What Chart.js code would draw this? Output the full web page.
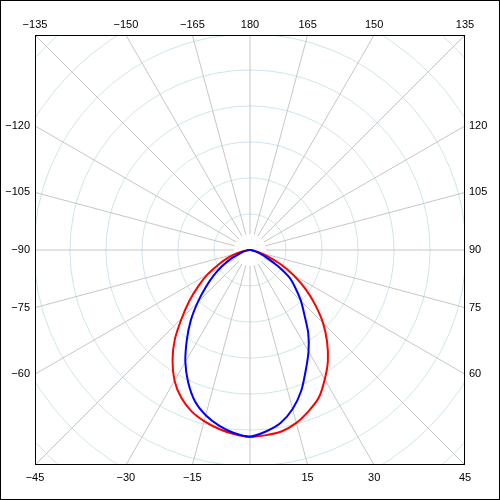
<!DOCTYPE html>
<html>
<head>
<meta charset="utf-8">
<script src="https://cdn.jsdelivr.net/npm/chart.js@4/dist/chart.umd.min.js"></script>
<style>
  html, body { margin: 0; padding: 0; background: #fff; }
  #wrap { width: 500px; height: 500px; }
</style>
</head>
<body>
<div id="wrap"><canvas id="polarChart" width="500" height="500"></canvas></div>
<script>
// --- photometric curve data (angle in degrees, 0 = straight down) ---
const angles = [-90, -85, -80, -75, -70, -65, -60, -55, -50, -45, -40, -35, -30, -25, -20, -15, -10, -5, 0,
                5, 10, 15, 20, 25, 30, 35, 40, 45, 50, 55, 60, 65, 70, 75, 80, 85, 90];
const redValues = [0, 6, 20, 42, 68, 98, 137, 175, 220, 268, 325, 375, 419, 452, 476, 492, 504, 513, 519,
                   516, 511, 497, 476, 452, 415, 377, 333, 287, 236, 188, 140, 95, 55, 30, 14, 5, 0];
const blueValues = [0, 3, 10, 20, 32, 60, 89, 123, 160, 205, 256, 306, 359, 406, 447, 475, 495, 510, 518,
                    506, 488, 457, 416, 367, 325, 282, 235, 200, 165, 134, 88, 52, 30, 15, 7, 2, 0];

// grid
const ringValues = [100, 200, 300, 400, 500, 600, 700, 800];
const spokeAngles = [-165, -150, -135, -120, -105, -90, -75, -60, -45, -30, -15, 0, 15, 30, 45, 60, 75, 90, 105, 120, 135, 150, 165, 180];
const labelAngles = [-135, -150, -165, 180, 165, 150, 135, -120, -105, -90, -75, -60, 120, 105, 90, 75, 60, -45, -30, -15, 15, 30, 45];
const axisMax = 597;

function toPoints(vals) {
    return angles.map((a, i) => {
        const rad = a * Math.PI / 180;
        return { x: vals[i] * Math.sin(rad), y: -vals[i] * Math.cos(rad) };
    });
}

const polarGrid = {
    id: 'polarGrid',
    beforeDatasetsDraw(chart) {
        const { ctx, chartArea, scales } = chart;
        const cx = scales.x.getPixelForValue(0);
        const cy = scales.y.getPixelForValue(0);
        const unit = scales.x.getPixelForValue(100) - cx;
        ctx.save();
        ctx.beginPath();
        ctx.rect(chartArea.left, chartArea.top, chartArea.right - chartArea.left, chartArea.bottom - chartArea.top);
        ctx.clip();
        ctx.lineWidth = 1;
        ctx.strokeStyle = '#cde5ec';
        ringValues.forEach(v => {
            ctx.beginPath();
            ctx.arc(cx, cy, v / 100 * unit, 0, Math.PI * 2);
            ctx.stroke();
        });
        ctx.strokeStyle = '#c6c6c6';
        spokeAngles.forEach(a => {
            const rad = a * Math.PI / 180;
            const dx = Math.sin(rad), dy = Math.cos(rad);
            ctx.beginPath();
            ctx.moveTo(cx + dx * 16, cy + dy * 16);
            ctx.lineTo(cx + dx * 400, cy + dy * 400);
            ctx.stroke();
        });
        ctx.restore();
    },
    afterDraw(chart) {
        const { ctx, chartArea, scales } = chart;
        const cx = scales.x.getPixelForValue(0);
        const cy = scales.y.getPixelForValue(0);
        const half = chartArea.right - cx;
        ctx.save();
        ctx.strokeStyle = '#000';
        ctx.lineWidth = 1;
        ctx.strokeRect(chartArea.left + 0.5, chartArea.top + 0.5, chartArea.right - chartArea.left - 1, chartArea.bottom - chartArea.top - 1);
        ctx.strokeRect(0.5, 0.5, chart.width - 1, chart.height - 1);

        ctx.fillStyle = '#000';
        ctx.font = '11px "Liberation Sans", Arial, sans-serif';
        ctx.textBaseline = 'middle';
        labelAngles.forEach(a => {
            const rad = a * Math.PI / 180;
            const dx = Math.sin(rad), dy = Math.cos(rad);
            const t = half / Math.max(Math.abs(dx), Math.abs(dy));
            const px = cx + dx * t, py = cy + dy * t;
            const text = String(a).replace('-', '\u2212');
            if (Math.abs(dy) >= Math.abs(dx) - 1e-9) {
                ctx.textAlign = 'center';
                ctx.fillText(text, px, dy < 0 ? chartArea.top - 10 : chartArea.bottom + 13);
            } else if (dx < 0) {
                ctx.textAlign = 'right';
                ctx.fillText(text, chartArea.left - 5, py);
            } else {
                ctx.textAlign = 'left';
                ctx.fillText(text, chartArea.right + 4, py);
            }
        });
        ctx.restore();
    }
};

new Chart(document.getElementById('polarChart'), {
    type: 'scatter',
    data: {
        datasets: [
            {
                label: 'C90-C270',
                data: toPoints(blueValues),
                showLine: true,
                borderColor: '#0000ff',
                borderWidth: 2,
                pointRadius: 0,
                tension: 0.25,
                fill: false
            },
            {
                label: 'C0-C180',
                data: toPoints(redValues),
                showLine: true,
                borderColor: '#ff0000',
                borderWidth: 2,
                pointRadius: 0,
                tension: 0.25,
                fill: false
            }
        ]
    },
    options: {
        responsive: false,
        animation: false,
        layout: { padding: 35 },
        scales: {
            x: { type: 'linear', min: -axisMax, max: axisMax, display: false },
            y: { type: 'linear', min: -axisMax, max: axisMax, display: false }
        },
        plugins: { legend: { display: false }, tooltip: { enabled: false } }
    },
    plugins: [polarGrid]
});
</script>
</body>
</html>
